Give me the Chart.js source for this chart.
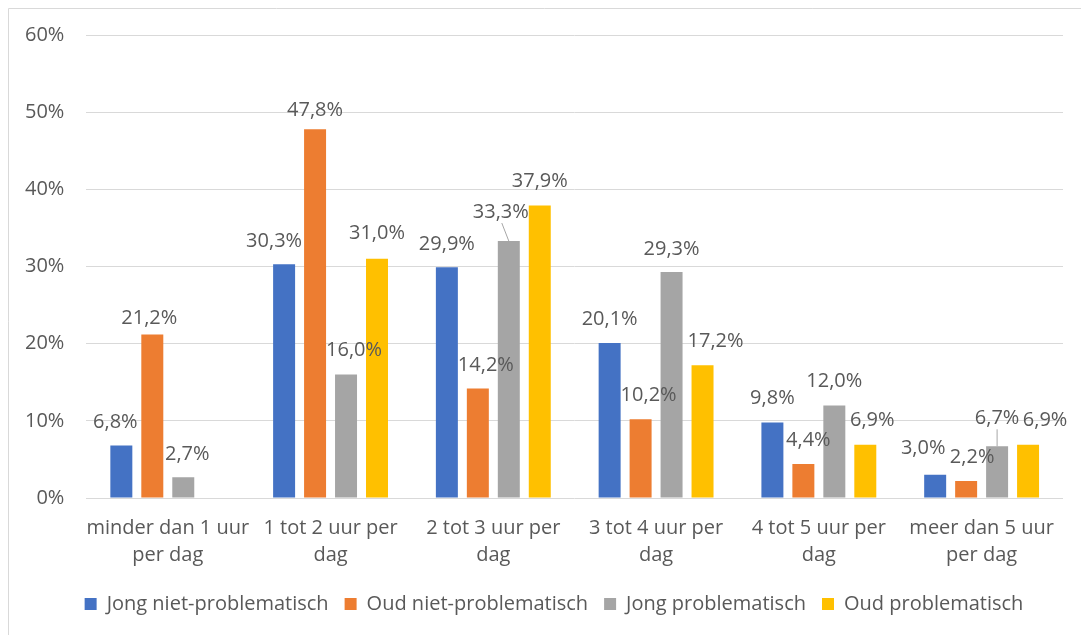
<!DOCTYPE html>
<html>
<head>
<meta charset="utf-8">
<script src="https://cdn.jsdelivr.net/npm/chart.js"></script>
<style>
  html, body { margin: 0; padding: 0; background: #fff; }
  #wrap { position: relative; width: 1081px; height: 635px; }
</style>
</head>
<body>
<div id="wrap"><canvas id="chart"></canvas></div>
<script>
// categorieën (x-as)
const categories = [
  ["minder dan 1 uur", "per dag"],
  ["1 tot 2 uur per", "dag"],
  ["2 tot 3 uur per", "dag"],
  ["3 tot 4 uur per", "dag"],
  ["4 tot 5 uur per", "dag"],
  ["meer dan 5 uur", "per dag"],
];

const seriesNames = ["Jong niet-problematisch", "Oud niet-problematisch", "Jong problematisch", "Oud problematisch"];
const jongNiet = [6.8, 30.3, 29.9, 20.1, 9.8, 3.0];
const oudNiet = [21.2, 47.8, 14.2, 10.2, 4.4, 2.2];
const jongProb = [2.7, 16.0, 33.3, 29.3, 12.0, 6.7];
const oudProb = [null, 31.0, 37.9, 17.2, 6.9, 6.9];
const yTicks = [0, 10, 20, 30, 40, 50, 60];

const colors = ["#4472C4", "#ED7D31", "#A5A5A5", "#FFC000"];
const TEXT = "#595959";
const FONT = "'Open Sans', sans-serif";

// label verschuiving [dx, afstand boven de balk] per reeks / categorie
const labelShift = [
  [[-6, 23], [-10, 23], [0, 23], [0, 24], [0, 24], [-12, 27]],
  [[-3, 16], [0, 19], [8, 23], [8, 24], [5, 24], [6, 24]],
  [[4, 23], [8, 24], [-8, 29], [0, 23], [0, 24], [0, 28]],
  [[0, 24], [0, 25], [0, 24], [13, 24], [7, 24], [17, 24]],
];
// welke labels een verbindingslijn hebben
const leaders = { "2-2": true, "2-5": true };

const fmt = (v) => v.toFixed(1).replace(".", ",") + "%";

const frame = {
  id: "frame",
  beforeDraw: (chart) => {
    const { ctx } = chart;
    ctx.save();
    ctx.strokeStyle = "#D9D9D9";
    ctx.lineWidth = 1;
    ctx.beginPath();
    ctx.moveTo(8.5, 635);
    ctx.lineTo(8.5, 8.5);
    ctx.lineTo(1081, 8.5);
    ctx.stroke();
    ctx.restore();
  },
};

// legenda iets naar rechts, zoals in Excel (gecentreerd onder het plotgebied)
const legendShift = {
  id: "legendShift",
  afterLayout: (chart) => {
    if (!chart.legend) return;
    chart.legend.left += 21;
    chart.legend.right += 21;
  },
};

const barLabels = {
  id: "barLabels",
  afterDatasetsDraw: (chart) => {
    const { ctx } = chart;
    ctx.save();
    ctx.font = "20px " + FONT;
    ctx.fillStyle = TEXT;
    ctx.textAlign = "center";
    ctx.textBaseline = "middle";
    chart.data.datasets.forEach((ds, di) => {
      const meta = chart.getDatasetMeta(di);
      meta.data.forEach((bar, i) => {
        const v = ds.data[i];
        if (v === null || v === undefined) return;
        const [dx, gap] = labelShift[di][i];
        const lx = bar.x + dx;
        const ly = bar.y - gap;
        ctx.fillText(fmt(v), lx, ly);
        if (leaders[di + "-" + i]) {
          ctx.save();
          ctx.strokeStyle = "#A6A6A6";
          ctx.lineWidth = 1;
          ctx.beginPath();
          ctx.moveTo(lx + (dx < 0 ? 1 : 0), ly + 11);
          ctx.lineTo(bar.x, bar.y);
          ctx.stroke();
          ctx.restore();
        }
      });
    });
    ctx.restore();
  },
};

const datasets = [jongNiet, oudNiet, jongProb, oudProb].map((vals, i) => ({
  label: seriesNames[i],
  data: vals,
  backgroundColor: colors[i],
  borderWidth: 0,
  categoryPercentage: 0.761,
  barPercentage: 0.71,
}));

new Chart(document.getElementById("chart"), {
  type: "bar",
  data: { labels: categories, datasets: datasets },
  plugins: [frame, legendShift, barLabels],
  options: {
    responsive: true,
    maintainAspectRatio: false,
    animation: false,
    layout: { padding: { top: 35, right: 18, left: 3, bottom: 11 } },
    plugins: {
      tooltip: { enabled: false },
      legend: {
        position: "bottom",
        labels: {
          boxWidth: 12,
          boxHeight: 12,
          padding: 16,
          color: TEXT,
          font: { family: FONT, size: 20 },
        },
      },
    },
    scales: {
      x: {
        grid: { display: false },
        border: { display: false },
        ticks: {
          color: TEXT,
          padding: 9,
          maxRotation: 0,
          autoSkip: false,
          font: { family: FONT, size: 20, lineHeight: 1.35 },
        },
      },
      y: {
        min: 0,
        max: 60,
        border: { display: false },
        grid: { color: "#D9D9D9", lineWidth: 1, drawTicks: false },
        afterBuildTicks: (axis) => {
          axis.ticks = yTicks.map((v) => ({ value: v }));
        },
        ticks: {
          color: TEXT,
          padding: 22,
          font: { family: FONT, size: 20 },
          callback: (v) => v + "%",
        },
      },
    },
  },
});
</script>
</body>
</html>
